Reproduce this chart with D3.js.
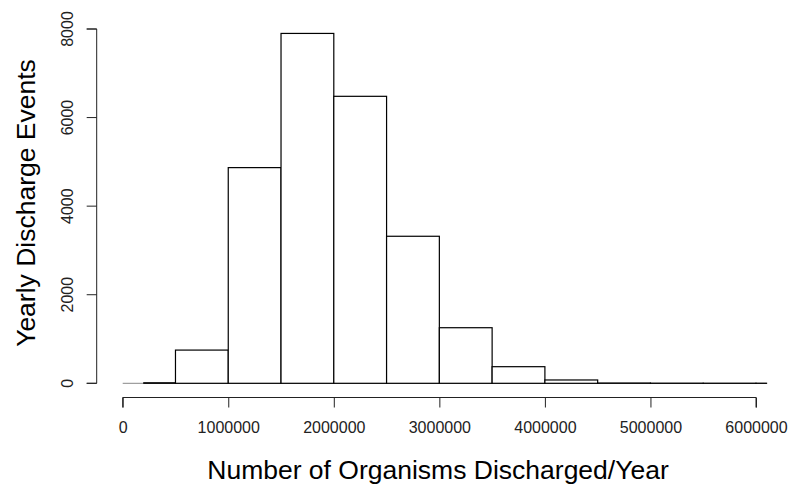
<!DOCTYPE html>
<html>
<head>
<meta charset="utf-8">
<script src="https://cdn.jsdelivr.net/npm/d3@7"></script>
<style>
  body { margin: 0; background: #fff; }
  svg { display: block; font-family: "Liberation Sans", Arial, sans-serif; }
</style>
</head>
<body>
<svg id="chart"></svg>
<script>
// histogram bins (organisms discharged per year) and counts
var binStarts = [200000, 500000, 1000000, 1500000, 2000000, 2500000, 3000000, 3500000, 4000000, 4500000, 5000000, 5500000, 6000000];
var binEnds = [500000, 1000000, 1500000, 2000000, 2500000, 3000000, 3500000, 4000000, 4500000, 5000000, 5500000, 6000000, 6100000];
var counts = [12, 750, 4870, 7900, 6480, 3320, 1255, 375, 75, 6, 2, 1, 1];

var xTicks = [0, 1000000, 2000000, 3000000, 4000000, 5000000, 6000000];
var yTicks = [0, 2000, 4000, 6000, 8000];

var width = 794,
    height = 486,
    svg = d3.select('#chart').attr('width', width).attr('height', height);

var x = d3.scaleLinear().domain([0, 6000000]).range([122.7, 756]);
var y = d3.scaleLinear().domain([0, 8000]).range([383.3, 29]);

var bins = counts.map(function (c, i) {
    return { x0: binStarts[i], x1: binEnds[i], n: c };
});

// grey zero line
svg.append('line')
    .attr('x1', x(0)).attr('x2', x(6100000))
    .attr('y1', y(0)).attr('y2', y(0))
    .attr('stroke', '#888').attr('stroke-width', 1);

svg.selectAll('rect.bar')
    .data(bins)
    .enter().append('rect')
    .attr('class', 'bar')
    .attr('x', function (d) { return x(d.x0); })
    .attr('y', function (d) { return y(d.n); })
    .attr('width', function (d) { return x(d.x1) - x(d.x0); })
    .attr('height', function (d) { return y(0) - y(d.n); })
    .attr('fill', '#fff')
    .attr('stroke', '#000')
    .attr('stroke-width', 1.2);

// x axis (R style, detached)
var xAxis = svg.append('g')
    .attr('transform', 'translate(0,397.5)')
    .call(d3.axisBottom(x).tickValues(xTicks).tickSize(10).tickPadding(14)
        .tickFormat(d3.format('d')));
xAxis.selectAll('path, line').attr('stroke', '#222');
xAxis.select('.domain').attr('d', 'M' + x(0) + ',10V0H' + x(6000000) + 'V10');
xAxis.selectAll('text').attr('font-size', 16).attr('fill', '#222')
    .attr('font-family', '"Liberation Sans", Arial, sans-serif');

// y axis
var yAxis = svg.append('g')
    .attr('transform', 'translate(96.7,0)')
    .call(d3.axisLeft(y).tickValues(yTicks).tickSize(10).tickFormat(d3.format('d')));
yAxis.selectAll('path, line').attr('stroke', '#222');
yAxis.select('.domain').attr('d', 'M-10,' + y(0) + 'H0V' + y(8000) + 'H-10');
yAxis.selectAll('text')
    .attr('font-size', 16).attr('fill', '#222')
    .attr('font-family', '"Liberation Sans", Arial, sans-serif')
    .attr('text-anchor', 'middle')
    .attr('dy', '0.35em')
    .attr('x', 0)
    .attr('transform', function (d) { return 'translate(-29,' + y(d) + ') rotate(-90)'; })
    .attr('y', 0);
yAxis.selectAll('.tick').attr('transform', null);
yAxis.selectAll('.tick line').attr('transform', function (d) { return 'translate(0,' + y(d) + ')'; });

// axis titles
svg.append('text')
    .attr('x', 438).attr('y', 479)
    .attr('text-anchor', 'middle')
    .attr('font-size', 26.5)
    .attr('fill', '#000')
    .text('Number of Organisms Discharged/Year');

svg.append('text')
    .attr('transform', 'translate(35,203) rotate(-90)')
    .attr('text-anchor', 'middle')
    .attr('font-size', 26.5)
    .attr('fill', '#000')
    .text('Yearly Discharge Events');
</script>
</body>
</html>
